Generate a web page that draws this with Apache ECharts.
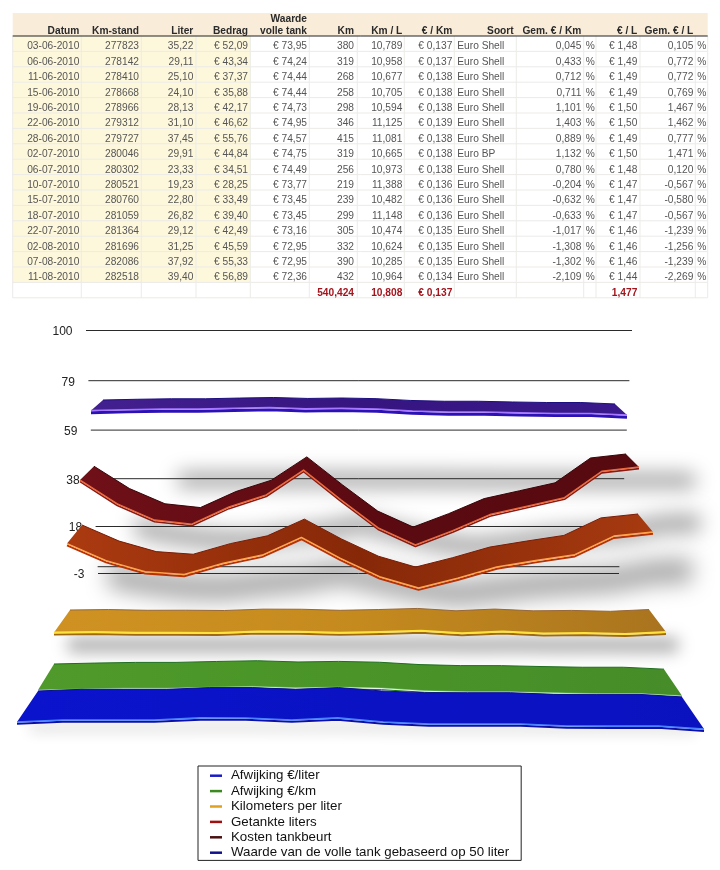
<!DOCTYPE html>
<html><head><meta charset="utf-8">
<style>html,body{margin:0;padding:0;background:#fff}#c{width:720px;height:870px}</style>
<script src="https://cdn.jsdelivr.net/npm/echarts@6/dist/echarts.min.js"></script>
</head><body><div id="c"></div>
<script>
const dates=['03-06-2010','06-06-2010','11-06-2010','15-06-2010','19-06-2010','22-06-2010','28-06-2010','02-07-2010','06-07-2010','10-07-2010','15-07-2010','18-07-2010','22-07-2010','02-08-2010','07-08-2010','11-08-2010'];
const kmStand=[277823,278142,278410,278668,278966,279312,279727,280046,280302,280521,280760,281059,281364,281696,282086,282518];
const liter=[35.22,29.11,25.10,24.10,28.13,31.10,37.45,29.91,23.33,19.23,22.80,26.82,29.12,31.25,37.92,39.40];
const bedrag=[52.09,43.34,37.37,35.88,42.17,46.62,55.76,44.84,34.51,28.25,33.49,39.40,42.49,45.59,55.33,56.89];
const waarde=[73.95,74.24,74.44,74.44,74.73,74.95,74.57,74.75,74.49,73.77,73.45,73.45,73.16,72.95,72.95,72.36];
const km=[380,319,268,258,298,346,415,319,256,219,239,299,305,332,390,432];
const kmPerL=[10.789,10.958,10.677,10.705,10.594,11.125,11.081,10.665,10.973,11.388,10.482,11.148,10.474,10.624,10.285,10.964];
const euroPerKm=[.137,.137,.138,.138,.138,.139,.138,.138,.138,.136,.136,.136,.135,.135,.135,.134];
const soort=['Euro Shell','Euro Shell','Euro Shell','Euro Shell','Euro Shell','Euro Shell','Euro Shell','Euro BP','Euro Shell','Euro Shell','Euro Shell','Euro Shell','Euro Shell','Euro Shell','Euro Shell','Euro Shell'];
const gemEuroKm=[.045,.433,.712,.711,1.101,1.403,.889,1.132,.780,-.204,-.632,-.633,-1.017,-1.308,-1.302,-2.109];
const euroPerL=[1.48,1.49,1.49,1.49,1.50,1.50,1.49,1.50,1.48,1.47,1.47,1.47,1.46,1.46,1.46,1.44];
const gemEuroL=[.105,.772,.772,.769,1.467,1.462,.777,1.471,.120,-.567,-.580,-.567,-1.239,-1.256,-1.239,-2.269];
const totals={km:'540,424',kmL:'10,808',euroKm:'€ 0,137',euroL:'1,477'};
const axisTicks=[100,79.4,58.8,38.2,17.6,-3];
const axisExtra=[0];
const legendNames=['Afwijking €/liter','Afwijking €/km','Kilometers per liter','Getankte liters','Kosten tankbeurt','Waarde van de volle tank gebaseerd op 50 liter'];

/* ---------- layout of the table ---------- */
const nl=(v,d)=>v.toFixed(d).replace('.',',');
const colEdges=[12.7,81.3,141.3,196,250.3,309.3,357.3,404.3,454.3,516.3,583.7,596,640,695.3,707.7];
const rowTop=36,rowH=15.4;
const columns=[
 {h:['Datum'],rx:79.3,cell:i=>dates[i]},
 {h:['Km-stand'],rx:139,cell:i=>String(kmStand[i])},
 {h:['Liter'],rx:193.3,cell:i=>nl(liter[i],2)},
 {h:['Bedrag'],rx:248,cell:i=>'€ '+nl(bedrag[i],2)},
 {h:['Waarde','volle tank'],rx:307,cell:i=>'€ '+nl(waarde[i],2)},
 {h:['Km'],rx:354,cell:i=>String(km[i])},
 {h:['Km / L'],rx:402.3,cell:i=>nl(kmPerL[i],3)},
 {h:['€ / Km'],rx:452.3,cell:i=>'€ '+nl(euroPerKm[i],3)},
 {h:['Soort'],rx:513.7,lx:457.3,cell:i=>soort[i]},
 {h:['Gem. € / Km'],rx:581.3,cell:i=>nl(gemEuroKm[i],3)},
 {h:[],lx:585.7,cell:i=>'%'},
 {h:['€ / L'],rx:637.3,cell:i=>'€ '+nl(euroPerL[i],2)},
 {h:['Gem. € / L'],rx:693.3,cell:i=>nl(gemEuroL[i],3)},
 {h:[],lx:697.3,cell:i=>'%'}
];
const totalCells=[{rx:354,t:totals.km},{rx:402.3,t:totals.kmL},{rx:452.3,t:totals.euroKm},{rx:637.3,t:totals.euroL}];
const gfx=[];
const rect=(x,y,w,h,fill)=>gfx.push({type:'rect',silent:true,shape:{x,y,width:w,height:h},style:{fill}});
const line=(x1,y1,x2,y2,stroke,lw)=>gfx.push({type:'line',silent:true,shape:{x1,y1,x2,y2},style:{stroke,lineWidth:lw||1}});
const txt=(x,y,t,align,fill,weight)=>gfx.push({type:'text',silent:true,x,y,style:{text:t,x:0,y:0,align,verticalAlign:'middle',fill,font:(weight||'normal')+' 10.2px "Liberation Sans", Arial, sans-serif'}});
rect(12.7,13,695,23,'#f9ecd9');
rect(12.7,36,237.6,rowH*16,'#fdf8dc');
for(let r=1;r<=17;r++) line(12.7,rowTop+r*rowH,707.7,rowTop+r*rowH,'#ecebe8');
colEdges.forEach(x=>line(x,36,x,rowTop+17*rowH,'#ecebe8'));
line(12.7,36,707.7,36,'#222');
columns.forEach(c=>{
  c.h.forEach((t,k)=>txt(c.rx,c.h.length===2?19.5+k*11.3:31,t,'right','#2a2a2a','bold'));
  dates.forEach((d,i)=>{
    const y=rowTop+i*rowH+10.5;
    if(c.lx!==undefined) txt(c.lx,y,c.cell(i),'left','#555');
    else txt(c.rx,y,c.cell(i),'right','#555');
  });
});
totalCells.forEach(c=>txt(c.rx,rowTop+16*rowH+11,c.t,'right','#a3141c','bold'));

/* ---------- 3D projection frames ---------- */
const G={left:91,top:330.5,width:536,height:243};
const UNIT=G.height/103;
// each edge: [x left, x right, y at reference value, px per value unit]
const ribbons=[
 {name:legendNames[5],values:waarde,ref:73.95,front:[91,627,410.5,2.9],back:[103,615,400,2.5],stops:['#43208f','#361580','#3a1a8c'],edge:'#1e0f80',lip:'#a678ff',under:'#2c12b4',underW:3,underD:2.2,color:'#10108a'},
 {name:legendNames[4],values:bedrag,ref:56.89,front:[80,639,467,2.72],back:[94,626,454,2.55],stops:['#701018','#5c0a12','#560a10'],edge:'#3a0508',lip:'#ea6a3e',under:'#8a1a14',underW:1.6,underD:1.6,color:'#4a1010'},
 {name:legendNames[3],values:liter,ref:39.40,front:[67,653,532,2.78],back:[82,638,514,2.63],stops:['#ab3a10','#862808','#a63a10'],edge:'#7a1c06',lip:'#ffa44c',under:'#b83208',underW:2,underD:1.8,color:'#a01010'},
 {name:legendNames[2],values:kmPerL,ref:10.789,front:[54,666,632.5,2.8],back:[70,649,610,2.6],stops:['#cf9222','#c58a1e','#a9741e'],edge:'#96683a',lip:'#ffe23e',lipW:2,under:'#a06a12',underW:2,underD:2,color:'#e0a020'},
 {name:legendNames[1],values:gemEuroKm,ref:.045,front:[38,682,690,2.65],back:[54,664,664,2.4],stops:['#4f9a2a','#4a9428','#468c28'],edge:'#1f6f1f',lip:'#8fdc8f',lipW:.5,under:'#1f6f1f',underW:1,underD:1.6,color:'#3a8a20'},
 {name:legendNames[0],values:gemEuroL,ref:.105,front:[17,704,722,3],back:[38,682,691,2.5],stops:['#0a14cc','#0a12c4','#0a12c0'],edge:'#0a1090',lip:'#4c84ff',lipW:1.6,under:'#0c10a8',underW:2,underD:1.8,color:'#1a1ac8'}
];
// blurred floor shadows, same data, flatter plane
const shadows=[
 {values:waarde,ref:73.95,top:[178,695,473,.5],bottom:[178,695,487,.5],alpha:.4,blur:10},
 {values:bedrag,ref:56.89,top:[135,700,514,.85],bottom:[135,700,532,.85],alpha:.36,blur:10},
 {values:liter,ref:39.40,top:[108,692,558,1.15],bottom:[108,692,583,1.15],alpha:.34,blur:11},
 {values:kmPerL,ref:10.789,top:[68,678,638,.5],bottom:[68,678,652,.5],alpha:.34,blur:8},
 {values:gemEuroL,ref:.105,top:[30,695,724,.6],bottom:[30,695,732,.6],alpha:.14,blur:7}
];
const lerp=(a,b,t)=>a+(b-a)*t;
function edge(api,values,ref,e){
  const a=api.coord([0,ref]), z=api.coord([values.length-1,ref]);
  return values.map((v,i)=>{
    const p=api.coord([i,v]);
    const t=(p[0]-a[0])/(z[0]-a[0]);
    return [lerp(e[0],e[1],t), e[2]+(p[1]-a[1])*e[3]/UNIT];
  });
}
const shift=(pts,d)=>pts.map(p=>[p[0],p[1]+d]);
const seriesData=v=>v.map((y,i)=>[i,y]);
const base={type:'custom',coordinateSystem:'cartesian2d',silent:true,animation:false,clip:false};

const series=[];
shadows.forEach(s=>series.push(Object.assign({},base,{data:seriesData(s.values),z:1,
 renderItem(p,api){
  if(p.dataIndex!==0) return null;
  const a=edge(api,s.values,s.ref,s.top), b=edge(api,s.values,s.ref,s.bottom);
  return {type:'polygon',x:-2000,shape:{points:a.concat(b.slice().reverse())},
    style:{fill:'#000',shadowColor:'rgba(0,0,0,'+s.alpha+')',shadowBlur:s.blur*2,shadowOffsetX:2000}};
 }})));
// wall: grid lines and value labels
series.push(Object.assign({},base,{data:axisTicks.concat(axisExtra).map(v=>[0,v]),z:2,
 renderItem(p,api){
  const v=api.value(1), py=api.coord([0,v])[1];
  const u=(py-G.top)/G.height, y=py+10*u*(1-u);
  const l=86+12*u, r=632-13*u;
  const kids=[{type:'line',shape:{x1:l,y1:y,x2:r,y2:y},style:{stroke:'#2a2a2a',lineWidth:1}}];
  if(axisTicks.includes(v)) kids.push({type:'text',x:l-13.5,y:y+1.5,style:{text:String(Math.round(v)),align:'right',verticalAlign:'middle',fill:'#222',font:'12px "Liberation Sans", Arial, sans-serif'}});
  return {type:'group',children:kids};
 }}));
ribbons.forEach((s,k)=>series.push(Object.assign({},base,{name:s.name,data:seriesData(s.values),z:10+k,itemStyle:{color:s.color},
 renderItem(p,api){
  if(p.dataIndex!==0) return null;
  const f=edge(api,s.values,s.ref,s.front), b=edge(api,s.values,s.ref,s.back);
  const fill=new echarts.graphic.LinearGradient(0,0,1,0,[{offset:0,color:s.stops[0]},{offset:.5,color:s.stops[1]},{offset:1,color:s.stops[2]}]);
  const poly=(pts,stroke,w)=>({type:'polyline',shape:{points:pts},style:{fill:'none',stroke,lineWidth:w,lineJoin:'round'}});
  return {type:'group',children:[
    {type:'polygon',shape:{points:b.concat(f.slice().reverse())},style:{fill}},
    poly(b,s.edge,1),
    poly(shift(f,s.underD),s.under,s.underW),
    poly(f,s.lip,s.lipW||1.5)
  ]};
 }})));

const chart=echarts.init(document.getElementById('c'),null,{devicePixelRatio:1});
chart.setOption({
 animation:false,backgroundColor:'#fff',
 grid:Object.assign({},G,{containLabel:false}),
 xAxis:{type:'category',data:dates,boundaryGap:false,show:false},
 yAxis:{type:'value',min:-3,max:100,show:false},
 legend:{data:legendNames,orient:'vertical',left:198,top:766,align:'left',selectedMode:false,
   icon:'rect',itemWidth:12,itemHeight:2.5,itemGap:0,padding:[2,12,0,12],borderColor:'#222',borderWidth:1,
   textStyle:{color:'#111',fontSize:13.3,lineHeight:15.4,padding:[0,0,0,4],fontFamily:'"Liberation Sans", Arial, sans-serif'}},
 graphic:gfx,
 series
});
</script></body></html>
